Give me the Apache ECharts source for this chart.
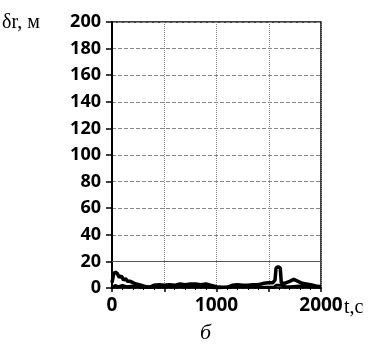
<!DOCTYPE html>
<html>
<head>
<meta charset="utf-8">
<script src="https://cdn.jsdelivr.net/npm/echarts@6/dist/echarts.min.js"></script>
<style>
  html, body { margin: 0; padding: 0; background: #fff; }
  #chart { width: 378px; height: 346px; }
</style>
</head>
<body>
<div id="chart"></div>
<script>
// upper edge of the error trace, [t, value]
const upperTrace = [
  [0, 4], [15, 10], [30, 12], [50, 11], [70, 8], [90, 9], [110, 6], [130, 7],
  [150, 5], [175, 5], [200, 4], [230, 3], [260, 2.5], [300, 1.5], [330, 1],
  [360, 0.5], [400, 2], [450, 2.5], [500, 2], [550, 2.5], [600, 2], [650, 3],
  [700, 2.5], [750, 3], [800, 3], [850, 2.5], [900, 3], [950, 2], [1000, 1],
  [1050, 0.5], [1100, 0.5], [1150, 2], [1200, 2.5], [1250, 2], [1300, 2],
  [1350, 2.5], [1400, 2.5], [1450, 3.5], [1500, 4], [1540, 4], [1560, 6],
  [1570, 15], [1590, 16], [1610, 15], [1620, 4], [1650, 3.5], [1700, 5],
  [1740, 6.5], [1780, 5], [1820, 3.5], [1860, 3], [1900, 2.5], [1950, 1.5],
  [2000, 1]
];

// lower edge of the error trace
const lowerTrace = [
  [0, 0], [30, 2], [60, 1], [100, 2], [140, 1], [200, 1.5], [250, 1],
  [300, 0.5], [400, 1], [500, 1], [600, 1.5], [700, 1], [800, 1.5], [900, 1],
  [1000, 0], [1100, 0.5], [1200, 1], [1300, 1], [1400, 1], [1450, 0.5],
  [1550, 0.5], [1570, 2], [1620, 2], [1660, 1], [1700, 1], [1800, 1.5],
  [1900, 1], [2000, 0.5]
];

const xTicks = [0, 1000, 2000];
const yMax = 200;
const xMax = 2000;
const solidGridLevels = [20];

const chart = echarts.init(document.getElementById('chart'), null, { renderer: 'canvas' });

const option = {
  backgroundColor: '#fff',
  animation: false,
  grid: {
    left: 112,
    right: 57,
    top: 22,
    bottom: 58,
    show: true,
    borderColor: '#000',
    borderWidth: 1.5,
  },
  xAxis: {
    type: 'value',
    min: 0,
    max: xMax,
    interval: 500,
    axisLine: { show: true, lineStyle: { color: '#000', width: 1.5 } },
    axisTick: { show: true, length: 4, lineStyle: { color: '#000', width: 1.5 } },
    minorTick: { show: true, splitNumber: 5, length: 2, lineStyle: { color: '#000' } },
    splitLine: { show: true, lineStyle: { color: '#888', type: 'dotted', width: 1 } },
    axisLabel: {
      color: '#000',
      fontFamily: 'Open Sans',
      fontWeight: 'bold',
      fontSize: 19,
      margin: 8,
      formatter: (v) => (xTicks.includes(v) ? String(v) : ''),
    },
  },
  yAxis: {
    type: 'value',
    min: 0,
    max: yMax,
    interval: 20,
    axisLine: { show: true, lineStyle: { color: '#000', width: 2 } },
    axisTick: { show: true, length: 6, lineStyle: { color: '#000', width: 1.5 } },
    splitLine: { show: true, lineStyle: { color: '#888', type: 'dashed', width: 1 } },
    axisLabel: {
      color: '#000',
      fontFamily: 'Open Sans',
      fontWeight: 'bold',
      fontSize: 18,
      margin: 11,
    },
  },
  graphic: [
    {
      type: 'text',
      left: 2,
      top: 13,
      style: { text: 'δr, м', fontFamily: 'Liberation Serif', fontSize: 20, fill: '#000' },
    },
    {
      type: 'text',
      left: 344,
      top: 298,
      style: { text: 't,c', fontFamily: 'Liberation Serif', fontSize: 20, fill: '#000' },
    },
    {
      type: 'text',
      left: 200,
      top: 322,
      style: { text: 'б', fontFamily: 'Liberation Serif', fontStyle: 'italic', fontSize: 22, fill: '#000' },
    },
  ],
  series: [
    {
      type: 'line',
      data: upperTrace,
      showSymbol: false,
      lineStyle: { color: '#000', width: 3.5 },
      markLine: {
        silent: true,
        symbol: 'none',
        label: { show: false },
        lineStyle: { color: '#555', type: 'solid', width: 1 },
        data: solidGridLevels.map((v) => ({ yAxis: v })),
      },
    },
    {
      type: 'line',
      data: lowerTrace,
      showSymbol: false,
      lineStyle: { color: '#000', width: 3 },
    },
  ],
};

chart.setOption(option);
</script>
</body>
</html>
